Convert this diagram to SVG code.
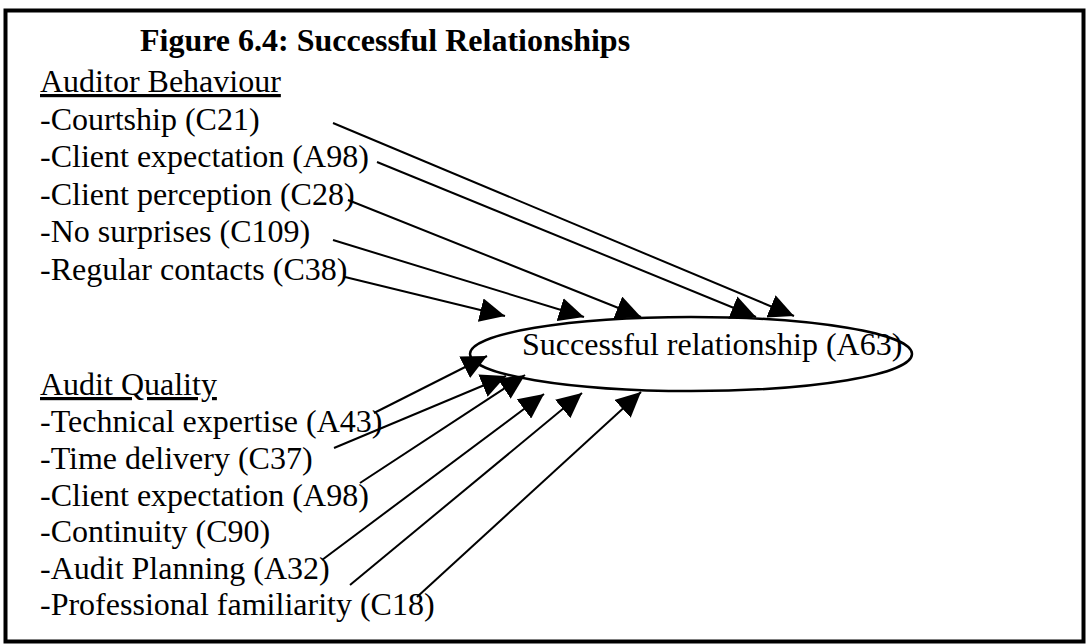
<svg xmlns="http://www.w3.org/2000/svg" width="1088" height="644" viewBox="0 0 1088 644">
  <style>
    text { font-family: "Liberation Serif", "Times New Roman", serif; font-size: 32px; fill: #000; }
    .title { font-weight: bold; }
    .head { text-decoration: underline; }
    .edge { stroke: #000; stroke-width: 2; fill: none; marker-end: url(#ah); }
    .frame { fill: #fff; stroke: #000; stroke-width: 4; }
    .oval { fill: #fff; stroke: #000; stroke-width: 2.5; }
  </style>
  <defs>
    <marker id="ah" viewBox="0 0 25 24" markerWidth="25" markerHeight="24" refX="25" refY="12" orient="auto" markerUnits="userSpaceOnUse">
      <path d="M0,0 L25,12 L0,24 z" fill="#000"/>
    </marker>
  </defs>

  <!-- outer frame -->
  <rect class="frame" x="5.5" y="10.5" width="1078" height="631"/>

  <g id="title">
    <text class="title" x="140" y="51">Figure 6.4: Successful Relationships</text>
  </g>

  <!-- central outcome -->
  <g id="successful-relationship">
    <ellipse class="oval" cx="691" cy="354" rx="221" ry="37"/>
    <text x="522" y="355">Successful relationship (A63)</text>
  </g>

  <g id="auditor-behaviour">
    <text class="head" x="40" y="92">Auditor Behaviour</text>
    <text x="40" y="129.5">-Courtship (C21)</text>
    <text x="40" y="167">-Client expectation (A98)</text>
    <text x="40" y="204.5">-Client perception (C28)</text>
    <text x="40" y="242">-No surprises (C109)</text>
    <text x="40" y="279.5">-Regular contacts (C38)</text>
  </g>

  <g id="audit-quality">
    <text class="head" x="40" y="395">Audit Quality</text>
    <text x="40" y="432">-Technical expertise (A43)</text>
    <text x="40" y="469">-Time delivery (C37)</text>
    <text x="40" y="506">-Client expectation (A98)</text>
    <text x="40" y="542">-Continuity (C90)</text>
    <text x="40" y="579">-Audit Planning (A32)</text>
    <text x="40" y="615">-Professional familiarity (C18)</text>
  </g>

  <g id="connectors">
    <!-- auditor behaviour factors -->
    <path class="edge" d="M333,123 L794,316"/>
    <path class="edge" d="M377,162 L756,317"/>
    <path class="edge" d="M348,200 L641,317"/>
    <path class="edge" d="M333,240 L584,317"/>
    <path class="edge" d="M345,277 L505,316"/>
    <!-- audit quality factors -->
    <path class="edge" d="M374,413 L487,356"/>
    <path class="edge" d="M334,448 L506,376"/>
    <path class="edge" d="M360,483 L525,375"/>
    <path class="edge" d="M322,560 L544,394"/>
    <path class="edge" d="M350,585 L582,393"/>
    <path class="edge" d="M417,597 L641,392"/>
  </g>
</svg>
